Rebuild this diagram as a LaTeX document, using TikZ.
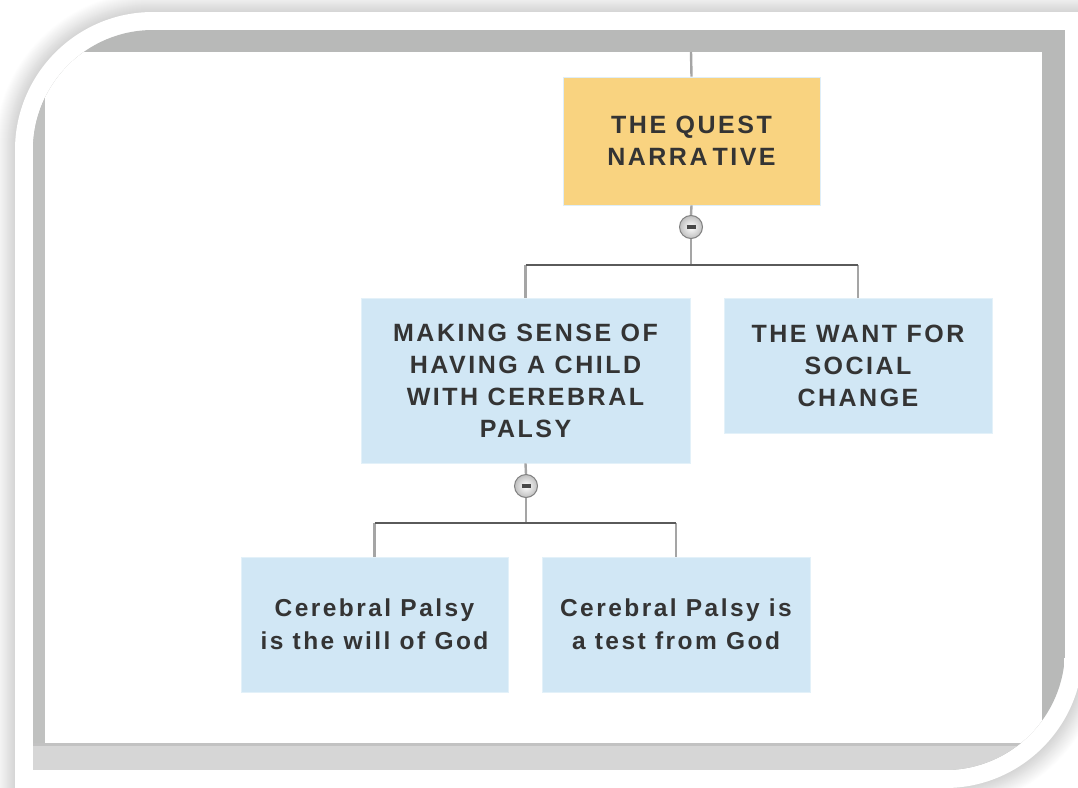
\documentclass[tikz,border=0pt]{standalone}
\usepackage{fontspec}
\newfontfamily\boxfont{Liberation Sans}[LetterSpace=10]
\definecolor{questfill}{RGB}{249,211,128}
\definecolor{topicfill}{RGB}{209,231,245}
\definecolor{ink}{RGB}{52,52,52}
\definecolor{framegray}{RGB}{184,185,184}
\definecolor{leftgray}{RGB}{192,193,192}
\definecolor{basegray}{RGB}{214,214,214}
\definecolor{stemgray}{RGB}{165,165,165}
\definecolor{bargray}{RGB}{90,90,90}

% rectangle with rounded top-left and bottom-right corners:
% {left}{top}{right}{bottom}{radius}
\newcommand\rrpath[5]{({#1},{(#2)+(#5)}) .. controls ({#1},{(#2)+0.4477*(#5)}) and ({(#1)+0.4477*(#5)},{#2}) .. ({(#1)+(#5)},{#2}) -- ({#3},{#2}) -- ({#3},{(#4)-(#5)}) .. controls ({#3},{(#4)-0.4477*(#5)}) and ({(#3)-0.4477*(#5)},{#4}) .. ({(#3)-(#5)},{#4}) -- ({#1},{#4}) -- cycle}

\tikzset{
  topic/.style={fill=topicfill, draw=topicfill!60!white, line width=0.8pt,
    align=center, inner sep=0pt, text=ink,
    font=\boxfont\bfseries\fontsize{25}{32}\selectfont},
  quest/.style={topic, fill=questfill, draw=topicfill!70!white},
  leaf/.style={topic, font=\boxfont\bfseries\fontsize{24.5}{33}\selectfont},
  toggle/.style={circle, minimum size=23pt, inner sep=0pt, draw=black!50,
    line width=1pt, inner color=white, outer color=black!25},
  stem/.style={draw=stemgray, line width=2.4pt},
  bar/.style={draw=bargray, line width=2pt}
}

\begin{document}
\begin{tikzpicture}[x=1pt,y=-1pt]
\useasboundingbox (0,0) rectangle (1078,787);

% soft shadow around the outer frame
\fill[white] (0,0) rectangle (1078,787);
\foreach \r in {20,...,1}{
  \pgfmathsetmacro\shd{16*(21-\r)/20}
  \fill[black!\shd] \rrpath{15-\r}{12-\r}{1083+\r}{788+\r}{138+\r};
}
% white outer frame
\fill[white] \rrpath{15}{12}{1083}{788}{138};

% grey mat and white sheet, cut by the rounded corners
\begin{scope}
  \clip \rrpath{33}{30}{1065}{770}{120};
  \fill[framegray] (33,30) rectangle (1065,770);
  \fill[leftgray] (33,52) rectangle (45,743);
  \fill[basegray] (33,743) rectangle (1065,770);
  \fill[black!24] (33,743) rectangle (1065,746);
  \fill[white] (45,52) rectangle (1042,743);
\end{scope}

% topics
\node[quest, minimum width=257pt, minimum height=128pt] (quest) at (691.5,141)
  {THE QUEST\\NARRA\kern5pt TIVE};
\node[topic, minimum width=329pt, minimum height=165pt] (sense) at (525.5,380.5)
  {MAKING SENSE OF\\HAVING A CHILD\\WITH CEREBRAL\\PALSY};
\node[topic, minimum width=268pt, minimum height=135pt] (want) at (858,365.5)
  {THE WANT FOR\\SOCIAL\\CHANGE};
\node[leaf, minimum width=267pt, minimum height=135pt] (will) at (374.5,624.5)
  {Cerebral Palsy\\is the will of God};
\node[leaf, minimum width=268pt, minimum height=135pt] (test) at (676,624.5)
  {Cerebral Palsy is\\a test from God};

% collapse toggles
\node[toggle] (t1) at (691,227) {\textcolor{bargray!80!black}{\rule{9pt}{3.5pt}}};
\node[toggle] (t2) at (526,486) {\textcolor{bargray!80!black}{\rule{9pt}{3.5pt}}};

\coordinate (in) at (691,52);
\coordinate (j1) at (691,265);
\coordinate (j2) at (526,523);

% connectors
\draw[stem] (in) -- (quest.north);
\draw[stem] (quest.south) -- (t1.north);
\draw[stem] (t1.south) -- (j1);
\draw[stem] (sense.north |- j1) -- (sense.north);
\draw[stem] (want.north |- j1) -- (want.north);
\draw[bar] (sense.north |- j1) -- (want.north |- j1);

\draw[stem] (sense.south) -- (t2.north);
\draw[stem] (t2.south) -- (j2);
\draw[stem] (will.north |- j2) -- (will.north);
\draw[stem] (test.north |- j2) -- (test.north);
\draw[bar] (will.north |- j2) -- (test.north |- j2);
\end{tikzpicture}
\end{document}
